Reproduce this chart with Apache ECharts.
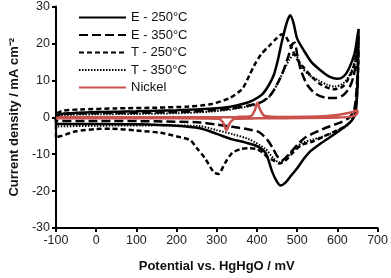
<!DOCTYPE html>
<html>
<head>
<meta charset="utf-8">
<script src="https://cdn.jsdelivr.net/npm/echarts@6/dist/echarts.min.js"></script>
<style>
  html, body { margin: 0; padding: 0; background: #fff; }
  #chart { width: 391px; height: 278px; }
</style>
</head>
<body>
<div id="chart"></div>
<script>
// potential (mV) / current density (mA cm-2), forward sweep then reverse
const e250 = [
  [-100, -1.8], [-100, 0], [-95, 0.6], [-80, 1.0], [-50, 1.2], [0, 1.4], [100, 1.6], [200, 1.9],
  [283, 2.3], [330, 2.8], [364, 3.6], [390, 4.6], [413, 6.2], [430, 8.8], [442, 11.5], [452, 15.5],
  [462, 20.5], [474, 25.6], [483, 27.6], [491, 25.5], [500, 21.3], [516, 18.2], [535, 15], [557, 12.8],
  [580, 11], [600, 10.4], [615, 11], [628, 13], [643, 17.4], [651, 22.7], [653, 23.9],
  [652, 20], [650, 8], [645, 1], [635, -1], [618, -2.6], [590, -4.8], [560, -7], [530, -9.5],
  [515, -11.5], [500, -13.8], [485, -15.8], [470, -17.8], [459, -18.5], [450, -17.5], [438, -14.8],
  [422, -9.8], [400, -7.8], [370, -6.8], [339, -6], [300, -4.5], [258, -3], [200, -2.3],
  [100, -1.9], [0, -1.8], [-100, -1.8]
];
const e350 = [
  [-100, -1.0], [-100, 0], [-95, 0.5], [-80, 0.9], [0, 1.1], [100, 1.2], [200, 1.4], [283, 1.8],
  [330, 2.3], [380, 3.2], [413, 4.2], [435, 6.2], [455, 10], [467, 13], [478, 16.5], [488, 19.8],
  [494, 20.2], [500, 17], [510, 12.5], [525, 8.8], [545, 6.4], [570, 5.3], [595, 5.2], [615, 6],
  [630, 8], [640, 11], [648, 16], [652, 22],
  [652, 18], [648, 8], [642, 2], [630, 0], [610, -1.3], [580, -2.5], [545, -4.1], [520, -5.5],
  [500, -7.5], [480, -10], [462, -11.7], [450, -10.5], [440, -8.5], [425, -6], [405, -4],
  [380, -3.3], [339, -2.6], [300, -2], [258, -1.4], [150, -1.1], [0, -1.0], [-100, -1.0]
];
const t250 = [
  [-100, -5.5], [-100, 0], [-95, 1.2], [-80, 1.8], [-40, 2.1], [50, 2.4], [150, 2.6], [230, 2.9],
  [283, 3.5], [332, 5.2], [364, 7.8], [381, 11.3], [393, 14], [410, 17], [430, 19.3], [450, 21.5],
  [462, 22.5], [472, 21.8], [485, 19], [498, 16], [516, 13.5], [536, 11], [560, 8.8], [590, 7.6],
  [612, 8.2], [628, 10.5], [640, 13.5], [648, 17.5], [652, 22],
  [652, 15], [648, 5], [640, 0], [620, -2.5], [600, -3.5], [570, -5], [540, -6.5], [511, -7.5],
  [490, -9.5], [470, -11.8], [455, -12.5], [440, -11.6], [428, -11], [415, -9.6], [398, -8.6],
  [381, -8.4], [360, -8.6], [339, -9.6], [320, -12.5], [304, -15.4], [292, -14.8], [270, -11],
  [250, -8.3], [234, -6.2], [201, -5.2], [160, -4.2], [100, -3.6], [37, -3.1], [0, -3.2],
  [-50, -3.8], [-85, -5.0], [-100, -5.5]
];
const t350 = [
  [-100, -2.5], [-100, 0], [-95, 0.3], [-80, 0.6], [0, 0.8], [100, 0.9], [200, 1.1], [283, 1.5],
  [340, 2.2], [400, 3.5], [430, 5.5], [450, 8.8], [465, 12.3], [480, 15.5], [492, 17], [500, 16.4],
  [511, 13.6], [530, 11.4], [553, 10], [575, 8.8], [594, 8.3], [615, 9.2], [632, 11.8], [644, 15.5],
  [652, 21],
  [652, 16], [648, 6], [640, 0], [620, -2.5], [602, -3.5], [570, -5], [540, -6], [511, -7],
  [490, -9], [470, -11.5], [455, -12.2], [440, -11], [420, -8.5], [381, -6], [340, -4.6],
  [300, -3.5], [258, -2.4], [150, -2.2], [0, -2.3], [-100, -2.5]
];
const nickel = [
  [-100, -0.3], [-90, 0], [0, 0], [200, 0], [350, 0.1], [385, 0.3], [395, 2], [401, 3.9],
  [408, 2], [418, 0.4], [450, 0.1], [550, 0.2], [600, 0.6], [630, 1.2], [650, 1.9],
  [650, 1.2], [640, 0.3], [600, -0.1], [400, -0.3], [345, -0.4], [333, -1.5], [324, -3.5],
  [316, -1.5], [305, -0.4], [200, -0.3], [0, -0.3], [-100, -0.3]
];

const seriesNames = ['E - 250°C', 'E - 350°C', 'T - 250°C', 'T - 350°C', 'Nickel'];

const chart = echarts.init(document.getElementById('chart'), null, {renderer: 'canvas'});

const mk = (name, data, lineStyle) => ({
  name,
  type: 'line',
  data,
  symbol: 'none',
  smooth: 0.25,
  lineStyle,
  itemStyle: {color: lineStyle.color},
  animation: false,
});

const font = 'Liberation Sans, Arial, Helvetica, sans-serif';

chart.setOption({
  animation: false,
  grid: {left: 54, right: 11, top: 5, bottom: 43},
  legend: {
    data: seriesNames,
    orient: 'vertical',
    left: 73,
    top: 6,
    itemWidth: 47,
    itemHeight: 14,
    itemGap: 4.5,
    // hide the round marker that line legends draw in the middle
    itemStyle: {opacity: 0},
    textStyle: {fontSize: 13, color: '#111', fontFamily: font},
  },
  xAxis: {
    type: 'value',
    min: -100,
    max: 700,
    interval: 100,
    name: 'Potential vs. HgHgO / mV',
    nameLocation: 'middle',
    nameGap: 32,
    nameTextStyle: {fontSize: 13, fontWeight: 'bold', color: '#111', fontFamily: font},
    axisLine: {onZero: false, lineStyle: {color: '#000', width: 2}},
    axisTick: {length: 4, lineStyle: {width: 2}},
    axisLabel: {fontSize: 12.5, color: '#222', margin: 6, fontFamily: font},
    splitLine: {show: false},
  },
  yAxis: {
    type: 'value',
    min: -30,
    max: 30,
    interval: 10,
    name: 'Current density / mA cm⁻²',
    nameLocation: 'middle',
    nameGap: 31,
    nameTextStyle: {fontSize: 13, fontWeight: 'bold', color: '#111', fontFamily: font},
    axisLine: {onZero: false, lineStyle: {color: '#000', width: 2}},
    axisTick: {length: 4, lineStyle: {width: 2}},
    axisLabel: {fontSize: 12.5, color: '#222', margin: 6, fontFamily: font},
    splitLine: {show: false},
  },
  series: [
    mk(seriesNames[0], e250, {color: '#000', width: 2.5, type: 'solid'}),
    mk(seriesNames[1], e350, {color: '#000', width: 2.5, type: [9, 4]}),
    mk(seriesNames[2], t250, {color: '#000', width: 2.5, type: [5, 3]}),
    mk(seriesNames[3], t350, {color: '#000', width: 2, type: [1.5, 1.5]}),
    mk(seriesNames[4], nickel, {color: '#c9524d', width: 2.5, type: 'solid'}),
  ],
});
</script>
</body>
</html>
